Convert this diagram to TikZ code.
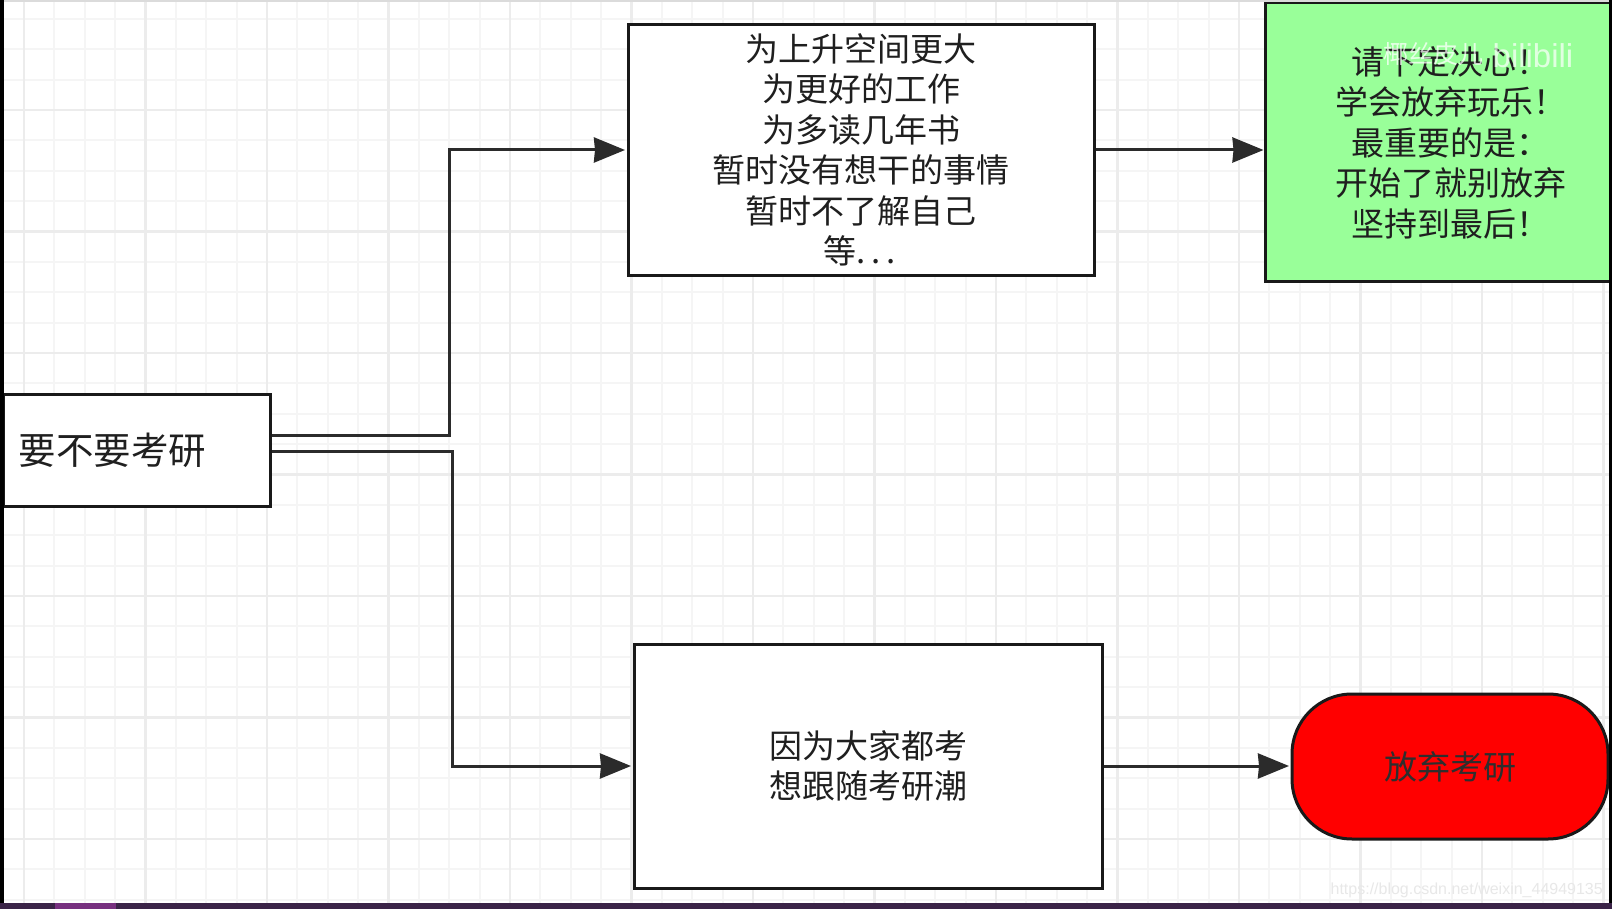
\documentclass[tikz,border=0pt]{standalone}
\usepackage{fontspec}
\setmainfont{Liberation Sans}
\newfontfamily\cjk{Noto Sans CJK SC}
\usetikzlibrary{arrows.meta}
\definecolor{gridminor}{HTML}{F5F5F5}
\definecolor{gridmajor}{HTML}{ECECEC}
\definecolor{linkgray}{HTML}{2B2B2B}
\definecolor{okgreen}{HTML}{99FF99}
\definecolor{barpurple}{HTML}{3A2347}
\definecolor{barhigh}{HTML}{77307F}
\tikzset{
  x=1pt,y=-1pt,
  card/.style={draw=black!90,line width=3pt,fill=white,inner sep=0pt,align=center,font=\cjk\fontsize{33}{40.5}\selectfont,text=black!88},
  link/.style={draw=linkgray,line width=3pt,-{Stealth[length=31pt,width=25pt,inset=1pt]},shorten >=1.5pt},
  gminor/.style={draw=gridminor,line width=2pt},
  gmajor/.style={draw=gridmajor,line width=2.2pt},
  frame/.style={draw=none,fill=#1}
}
\begin{document}
\begin{tikzpicture}
\useasboundingbox (0,0) rectangle (1612,909);
\fill[white] (0,0) rectangle (1612,909);
% grid
\foreach \i in {0,...,52}{
  \pgfmathsetmacro\gx{24+30.375*\i}
  \pgfmathtruncatemacro\gm{mod(\i,4)}
  \ifnum\gm=0\relax\else\draw[gminor] (\gx,0) -- (\gx,909);\fi
}
\foreach \i in {0,...,30}{
  \pgfmathsetmacro\gy{-11.5+30.375*\i}
  \pgfmathtruncatemacro\gm{mod(\i,4)}
  \ifnum\gm=0\relax\else\draw[gminor] (0,\gy) -- (1612,\gy);\fi
}
\foreach \i in {0,...,13}{
  \pgfmathsetmacro\gx{24+121.5*\i}
  \draw[gmajor] (\gx,0) -- (\gx,909);
}
\foreach \i in {1,...,7}{
  \pgfmathsetmacro\gy{-11.5+121.5*\i}
  \draw[gmajor] (0,\gy) -- (1612,\gy);
}
% nodes
\node[card,minimum width=267pt,minimum height=112pt,text width=235pt,inner xsep=16pt,align=left,font=\cjk\fontsize{37.5}{40}\selectfont] (start) at (136.5,450) {要不要考研};
\node[card,minimum width=466pt,minimum height=251pt] (reasons) at (861,150) {为上升空间更大\\为更好的工作\\为多读几年书\\暂时没有想干的事情\\暂时不了解自己\\\kern-3pt等.\kern6pt.\kern6pt.};
\node[card,fill=okgreen,minimum width=345pt,minimum height=279pt] (advice) at (1437.5,142.5) {\hspace*{26pt}请下定决心！\\\hspace*{26pt}学会放弃玩乐！\\\hspace*{26pt}最重要的是：\\\hspace*{26pt}开始了就别放弃\\\hspace*{26pt}坚持到最后！};
\node[card,minimum width=468pt,minimum height=244pt] (follow) at (868,766) {\raisebox{-1.5pt}{因为大家都考}\\\raisebox{-1.5pt}{想跟随考研潮}};
\node[card,fill=red,minimum width=316pt,minimum height=145pt,rounded corners=60pt,text=black!82] (quit) at (1450,766.5) {\raisebox{-2pt}{放弃考研}};
% connector bend positions
\coordinate (bendup) at (449,0);
\coordinate (benddown) at (452,0);
% connectors
\draw[link] ([yshift=15pt]start.east) -| (bendup |- reasons.west) -- (reasons.west);
\draw[link] ([yshift=-1pt]start.east) -| (benddown |- follow.west) -- (follow.west);
\draw[link,shorten >=0pt] (reasons.east) -- (reasons.east -| advice.west);
\draw[link] (follow.east) -- (follow.east -| quit.west);
% watermarks
\node[text=white,opacity=0.75,font=\cjk\fontsize{25}{25}\selectfont,inner sep=0pt] (wmname) at (1433,54) {椰丝皮儿};
\node[text=white,opacity=0.7,font=\fontsize{33}{34}\selectfont,inner sep=0pt] (wmlogo) at (1533,56) {bilibili};
\node[text=black!9,font=\fontsize{16}{18}\selectfont,inner sep=0pt,anchor=east] (wmurl) at (1603,890) {https://blog.csdn.net/weixin\_44949135};
% screen edges
\fill[frame=black!14] (0,0) rectangle (1612,2.5);
\fill[frame=black] (0,0) rectangle (4,903);
\fill[frame=black] (1609,0) rectangle (1612,903);
\fill[frame=barpurple] (0,903) rectangle (1612,909);
\fill[frame=barhigh] (55,903) rectangle (116,909);
\end{tikzpicture}
\end{document}
